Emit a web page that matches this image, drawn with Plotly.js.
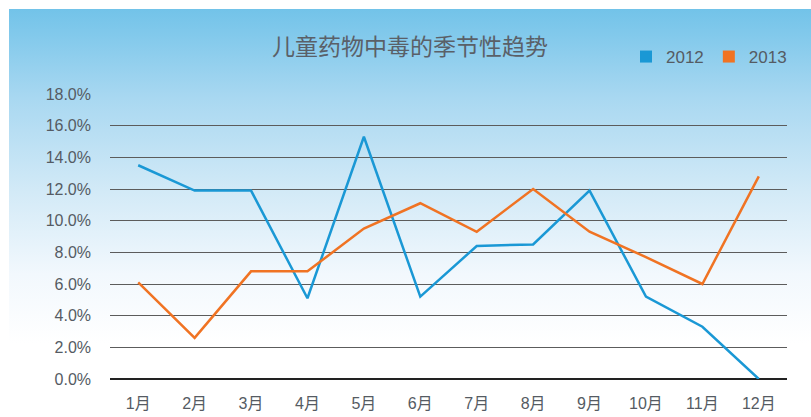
<!DOCTYPE html>
<html>
<head>
<meta charset="utf-8">
<script src="https://cdn.plot.ly/plotly-3.0.1.min.js"></script>
<style>
html,body{margin:0;padding:0;background:#ffffff;}
#wrap{position:relative;width:811px;height:417px;overflow:hidden;}
#bg{position:absolute;left:9px;top:9px;width:802px;height:408px;background:linear-gradient(to bottom,#72c3e9 0%,#a9d8f1 22%,#d3eaf7 45%,#f2f8fd 65%,#ffffff 82%);}
#chart{position:absolute;left:0;top:0;width:811px;height:417px;}
</style>
</head>
<body>
<div id="wrap"><div id="bg"></div><div id="chart"></div></div>
<script>
const months = ["1月","2月","3月","4月","5月","6月","7月","8月","9月","10月","11月","12月"];
const series2012 = [13.5, 11.9, 11.9, 5.1, 15.3, 5.2, 8.4, 8.5, 11.9, 5.2, 3.3, 0.0];
const series2013 = [6.1, 2.6, 6.8, 6.8, 9.5, 11.1, 9.3, 12.0, 9.3, 7.7, 6.0, 12.8];
const yTicks = [0,2,4,6,8,10,12,14,16,18];
const yTickText = yTicks.map(v => v.toFixed(1) + "%");

const blue = "#1a98d5";
const orange = "#f07323";
const fontFam = "Liberation Sans, Arial, Noto Sans CJK SC, sans-serif";

const traces = [
  {x: months, y: series2012, type: "scatter", mode: "lines", name: "2012",
   line: {color: blue, width: 2.5}, showlegend: false, hoverinfo: "skip"},
  {x: months, y: series2013, type: "scatter", mode: "lines", name: "2013",
   line: {color: orange, width: 2.5}, showlegend: false, hoverinfo: "skip"},
  {x: [null], y: [null], type: "scatter", mode: "markers", name: "2012",
   marker: {symbol: "square", size: 12, color: blue}},
  {x: [null], y: [null], type: "scatter", mode: "markers", name: "2013",
   marker: {symbol: "square", size: 12, color: orange}}
];

const layout = {
  width: 811, height: 417,
  margin: {l: 110, r: 24, t: 94, b: 38},
  paper_bgcolor: "rgba(0,0,0,0)",
  plot_bgcolor: "rgba(0,0,0,0)",
  title: {text: "儿童药物中毒的季节性趋势", x: 410/811, xanchor: "center", xref: "container",
          y: 1 - 47/417, yanchor: "middle", yref: "container",
          font: {family: "Noto Sans CJK SC, sans-serif", size: 23, color: "#5a6068"}},
  showlegend: true,
  legend: {orientation: "h", xref: "container", yref: "container", x: 626/811, y: 1 - 57/417,
           xanchor: "left", yanchor: "middle", bgcolor: "rgba(0,0,0,0)",
           font: {family: fontFam, size: 17, color: "#555b63"}, itemwidth: 30, tracegroupgap: 0},
  xaxis: {type: "category", categoryarray: months, range: [-0.5, 11.5], showgrid: false, zeroline: false,
          showline: false, ticks: "", ticklabelstandoff: 13,
          tickfont: {family: fontFam, size: 16, color: "#555b63"}, fixedrange: true},
  yaxis: {range: [0, 18], tickvals: yTicks, ticktext: yTickText, showgrid: true,
          gridcolor: "#5c5c5c", gridwidth: 1, zeroline: true, zerolinecolor: "#222222",
          zerolinewidth: 1.5, showline: false, ticks: "", ticklabelstandoff: 18,
          tickfont: {family: fontFam, size: 16, color: "#555b63"}, fixedrange: true}
};

Plotly.newPlot("chart", traces, layout, {displayModeBar: false, staticPlot: true});
</script>
</body>
</html>
